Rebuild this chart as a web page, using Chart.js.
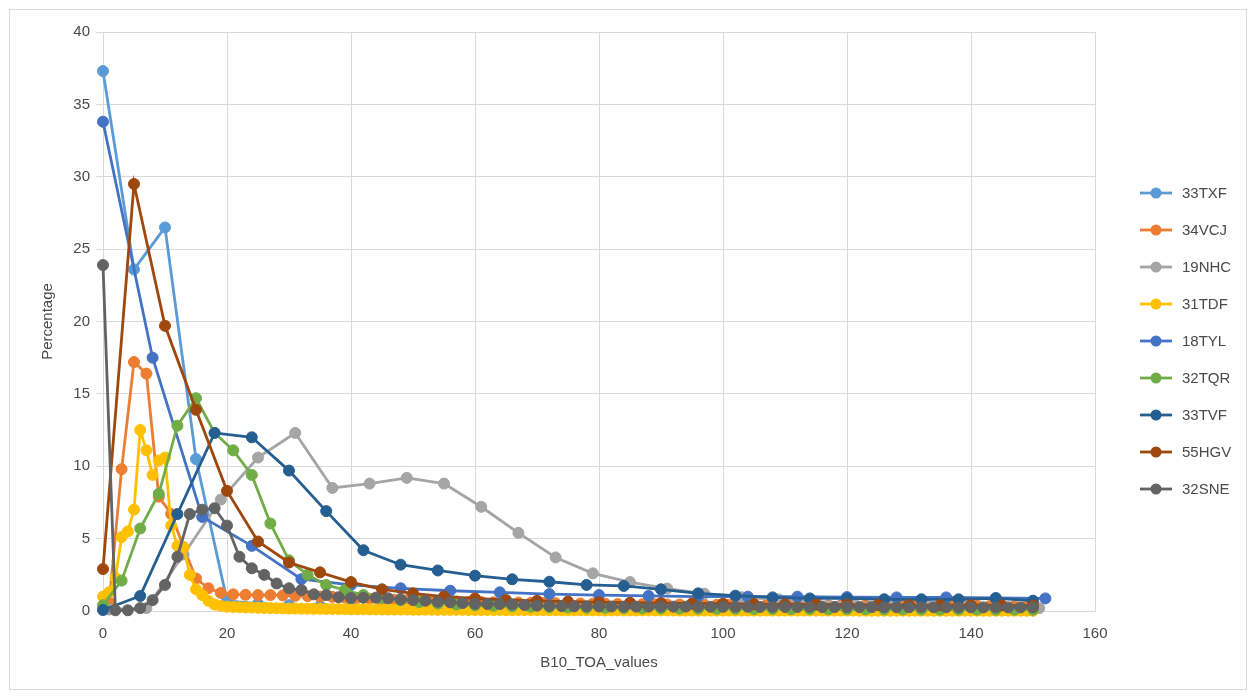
<!DOCTYPE html>
<html><head><meta charset="utf-8">
<script src="https://cdn.jsdelivr.net/npm/chart.js@4.4.0/dist/chart.umd.min.js"></script>
<style>html,body{margin:0;padding:0;background:#fff}#wrap{width:1254px;height:697px;position:relative}</style>
</head><body><div id="wrap"><canvas id="c" width="1254" height="697"></canvas></div>
<script>
// ---------- DATA ----------
const seriesNames = ['33TXF','34VCJ','19NHC','31TDF','18TYL','32TQR','33TVF','55HGV','32SNE'];
const seriesColors = ['#5B9BD5','#ED7D31','#A5A5A5','#FFC000','#4472C4','#70AD47','#255E91','#9E480E','#636363'];

const txfX = [0,5,10,15,20,25,30,35,40,45,50,55,60,65,70,75,80,85,90,95,100,105,110,115,120,125,130,135,140,145,150];
const txfY = [37.3,23.6,26.5,10.5,0.7,0.5,0.4,0.35,0.3,0.3,0.25,0.25,0.2,0.2,0.2,0.15,0.15,0.15,0.15,0.1,0.1,0.1,0.1,0.1,0.1,0.1,0.08,0.08,0.08,0.05,0.05];

const vcjX = [1,3,5,7,9,11,13,15,17,19,21,23,25,27,29,31,33,35,37,39,41,43,45,47,49,51,53,55,57,59,61,63,65,67,69,71,73,75,77,79,81,83,85,87,89,91,93,95,97,99,101,103,105,107,109,111,113,115,117,119,121,123,125,127,129,131,133,135,137,139,141,143,145,147,149];
const vcjY = [0.6,9.8,17.2,16.4,7.9,6.7,4.4,2.25,1.57,1.25,
  1.15,1.12,1.1,1.1,1.08,1.05,1.03,1.0,0.98,0.95,
  0.9,0.85,0.8,0.78,0.75,0.72,0.7,0.68,0.66,0.64,
  0.62,0.6,0.6,0.58,0.56,0.55,0.54,0.52,0.52,0.5,
  0.5,0.48,0.48,0.47,0.46,0.45,0.45,0.44,0.44,0.43,
  0.43,0.42,0.42,0.41,0.41,0.4,0.4,0.4,0.39,0.39,
  0.38,0.38,0.38,0.37,0.37,0.36,0.36,0.36,0.35,0.35,
  0.35,0.34,0.34,0.33,0.33];

const nhcX = [1,7,13,19,25,31,37,43,49,55,61,67,73,79,85,91,97,103,109,115,121,127,133,139,145,151];
const nhcY = [0.1,0.2,3.9,7.7,10.6,12.3,8.5,8.8,9.2,8.8,7.2,5.4,3.7,2.6,2.0,1.55,1.2,0.95,0.8,0.65,0.55,0.45,0.4,0.35,0.3,0.2];

const tdfX = [0,1,2,3,4,5,6,7,8,9,10,11,12,13,14,15,16,17,18,19,20,21,22,23,24,25,26,27,28,29,30,31,32,33,34,35,36,37,38,39,40,41,42,43,44,45,46,47,48,49,50,51,52,53,54,55,56,57,58,59,60,61,62,63,64,65,66,67,68,69,70,71,72,73,74,75,76,77,78,79,80,81,82,83,84,85,86,87,88,89,90,91,92,93,94,95,96,97,98,99,100,101,102,103,104,105,106,107,108,109,110,111,112,113,114,115,116,117,118,119,120,121,122,123,124,125,126,127,128,129,130,131,132,133,134,135,136,137,138,139,140,141,142,143,144,145,146,147,148,149,150];
const tdfY = [1.0,1.3,2.3,5.1,5.5,7.0,12.5,11.1,9.4,10.4,
  10.6,5.9,4.5,4.4,2.5,1.5,1.1,0.7,0.45,0.35,
  0.3,0.28,0.26,0.25,0.24,0.22,0.21,0.2,0.19,0.18,
  0.17,0.17,0.16,0.16,0.15,0.15,0.14,0.14,0.13,0.13,
  0.12,0.12,0.12,0.11,0.11,0.11,0.1,0.1,0.1,0.1,
  0.09,0.09,0.09,0.09,0.08,0.08,0.08,0.08,0.08,0.07,
  0.07,0.07,0.07,0.07,0.07,0.06,0.06,0.06,0.06,0.06,
  0.06,0.06,0.05,0.05,0.05,0.05,0.05,0.05,0.05,0.05,
  0.05,0.04,0.04,0.04,0.04,0.04,0.04,0.04,0.04,0.04,
  0.04,0.04,0.04,0.03,0.03,0.03,0.03,0.03,0.03,0.03,
  0.03,0.03,0.03,0.03,0.03,0.03,0.03,0.03,0.03,0.03,
  0.03,0.03,0.03,0.03,0.03,0.03,0.03,0.03,0.03,0.03,
  0.03,0.03,0.02,0.02,0.02,0.02,0.02,0.02,0.02,0.02,
  0.02,0.02,0.02,0.02,0.02,0.02,0.02,0.02,0.02,0.02,
  0.02,0.02,0.02,0.02,0.02,0.02,0.02,0.02,0.02,0.02,
  0.02];

const tylX = [0,8,16,24,32,40,48,56,64,72,80,88,96,104,112,120,128,136,144,152];
const tylY = [33.8,17.5,6.5,4.5,2.2,1.8,1.57,1.4,1.29,1.17,1.1,1.04,1.0,0.99,0.99,0.96,0.94,0.94,0.9,0.87];

const tqrX = [0,3,6,9,12,15,18,21,24,27,30,33,36,39,42,45,48,51,54,57,60,63,66,69,72,75,78,81,84,87,90,93,96,99,102,105,108,111,114,117,120,123,126,129,132,135,138,141,144,147,150];
const tqrY = [0.4,2.1,5.7,8.1,12.8,14.7,12.3,11.1,9.4,6.05,
  3.5,2.5,1.8,1.45,1.1,0.9,0.75,0.62,0.52,0.45,
  0.4,0.36,0.32,0.3,0.27,0.25,0.23,0.22,0.2,0.19,
  0.18,0.17,0.16,0.15,0.15,0.14,0.14,0.13,0.13,0.12,
  0.12,0.12,0.11,0.11,0.1,0.1,0.1,0.1,0.09,0.09,
  0.09];

const tvfX = [0,6,12,18,24,30,36,42,48,54,60,66,72,78,84,90,96,102,108,114,120,126,132,138,144,150];
const tvfY = [0.07,1.04,6.7,12.3,12.0,9.7,6.9,4.2,3.2,2.8,2.44,2.19,2.02,1.8,1.73,1.5,1.22,1.06,0.94,0.87,0.87,0.81,0.81,0.81,0.87,0.71];

const hgvX = [0,5,10,15,20,25,30,35,40,45,50,55,60,65,70,75,80,85,90,95,100,105,110,115,120,125,130,135,140,145,150];
const hgvY = [2.9,29.5,19.7,13.9,8.3,4.8,3.35,2.67,2.0,1.5,1.22,1.0,0.87,0.76,0.7,0.65,0.6,0.57,0.55,0.52,0.5,0.48,0.46,0.45,0.44,0.42,0.41,0.4,0.4,0.38,0.37];

const sneX = [0,2,4,6,8,10,12,14,16,18,20,22,24,26,28,30,32,34,36,38,40,42,44,46,48,50,52,54,56,58,60,62,64,66,68,70,72,74,76,78,80,82,84,86,88,90,92,94,96,98,100,102,104,106,108,110,112,114,116,118,120,122,124,126,128,130,132,134,136,138,140,142,144,146,148,150];
const sneY = [23.9,0.05,0.05,0.2,0.75,1.8,3.75,6.7,7.0,7.1,
  5.9,3.75,2.95,2.5,1.9,1.57,1.45,1.15,1.1,0.95,
  0.9,0.92,0.92,0.88,0.8,0.76,0.71,0.64,0.6,0.55,
  0.5,0.48,0.48,0.46,0.41,0.37,0.35,0.33,0.32,0.32,
  0.31,0.31,0.3,0.3,0.3,0.3,0.3,0.3,0.3,0.29,
  0.29,0.29,0.29,0.28,0.28,0.28,0.28,0.28,0.27,0.27,
  0.27,0.27,0.27,0.26,0.26,0.26,0.26,0.26,0.26,0.25,
  0.25,0.25,0.25,0.25,0.25,0.25];

const xTicks = [0,20,40,60,80,100,120,140,160];
const yTicks = [0,5,10,15,20,25,30,35,40];

const seriesX = [txfX,vcjX,nhcX,tdfX,tylX,tqrX,tvfX,hgvX,sneX];
const seriesY = [txfY,vcjY,nhcY,tdfY,tylY,tqrY,tvfY,hgvY,sneY];

// ---------- CHART ----------
const FONT = "'Liberation Sans', Arial, sans-serif";
const TEXT = '#4a4a4a';
const datasets = seriesNames.map((name, i) => ({
  label: name,
  data: seriesX[i].map((x, j) => ({x: x, y: seriesY[i][j]})),
  borderColor: seriesColors[i],
  backgroundColor: seriesColors[i],
  pointBackgroundColor: seriesColors[i],
  pointBorderColor: seriesColors[i],
  borderWidth: 2.8,
  pointRadius: 5.5,
  pointBorderWidth: 1,
  showLine: true,
  tension: 0,
  clip: false,
  order: seriesNames.length - i
}));

const deco = {
  id: 'deco',
  beforeDraw(chart) {
    const ctx = chart.ctx;
    ctx.save();
    ctx.fillStyle = '#ffffff';
    ctx.fillRect(0, 0, chart.width, chart.height);
    ctx.strokeStyle = '#D9D9D9';
    ctx.lineWidth = 1;
    ctx.strokeRect(9.5, 9.5, 1237, 680);
    ctx.restore();
  },
  afterDraw(chart) {
    const ctx = chart.ctx;
    ctx.save();
    chart.data.datasets.forEach((ds, i) => {
      const y = 193 + 37 * i;
      ctx.strokeStyle = ds.borderColor;
      ctx.lineWidth = 2.8;
      ctx.beginPath();
      ctx.moveTo(1140, y);
      ctx.lineTo(1172, y);
      ctx.stroke();
      ctx.fillStyle = ds.borderColor;
      ctx.beginPath();
      ctx.arc(1156, y, 5.5, 0, Math.PI * 2);
      ctx.fill();
      ctx.fillStyle = TEXT;
      ctx.font = '15px ' + FONT;
      ctx.textBaseline = 'middle';
      ctx.textAlign = 'left';
      ctx.fillText(ds.label, 1182, y + 1);
    });
    ctx.restore();
  }
};

new Chart(document.getElementById('c'), {
  type: 'scatter',
  data: { datasets },
  options: {
    responsive: false,
    animation: false,
    devicePixelRatio: 1,
    layout: { padding: { left: 39, right: 159, top: 32, bottom: 25 } },
    plugins: { legend: { display: false }, tooltip: { enabled: false } },
    scales: {
      x: {
        type: 'linear', min: 0, max: 160,
        afterBuildTicks: s => { s.ticks = xTicks.map(v => ({value: v})); },
        afterFit: s => { s.height = 61; },
        grid: { color: '#D9D9D9', lineWidth: 1, drawTicks: false },
        border: { color: '#D9D9D9' },
        ticks: { color: TEXT, font: { family: FONT, size: 15 }, padding: 14, maxRotation: 0 },
        title: { display: true, text: 'B10_TOA_values', color: TEXT, font: { family: FONT, size: 15 }, padding: 0 }
      },
      y: {
        type: 'linear', min: 0, max: 40,
        afterBuildTicks: s => { s.ticks = yTicks.map(v => ({value: v})); },
        afterFit: s => { s.width = 64; },
        grid: { color: '#D9D9D9', lineWidth: 1, tickLength: 7 },
        border: { color: '#D9D9D9' },
        ticks: { color: TEXT, font: { family: FONT, size: 15 }, padding: 6 },
        title: { display: true, text: 'Percentage', color: TEXT, font: { family: FONT, size: 15 }, padding: 0 }
      }
    }
  },
  plugins: [deco]
});
</script></body></html>
